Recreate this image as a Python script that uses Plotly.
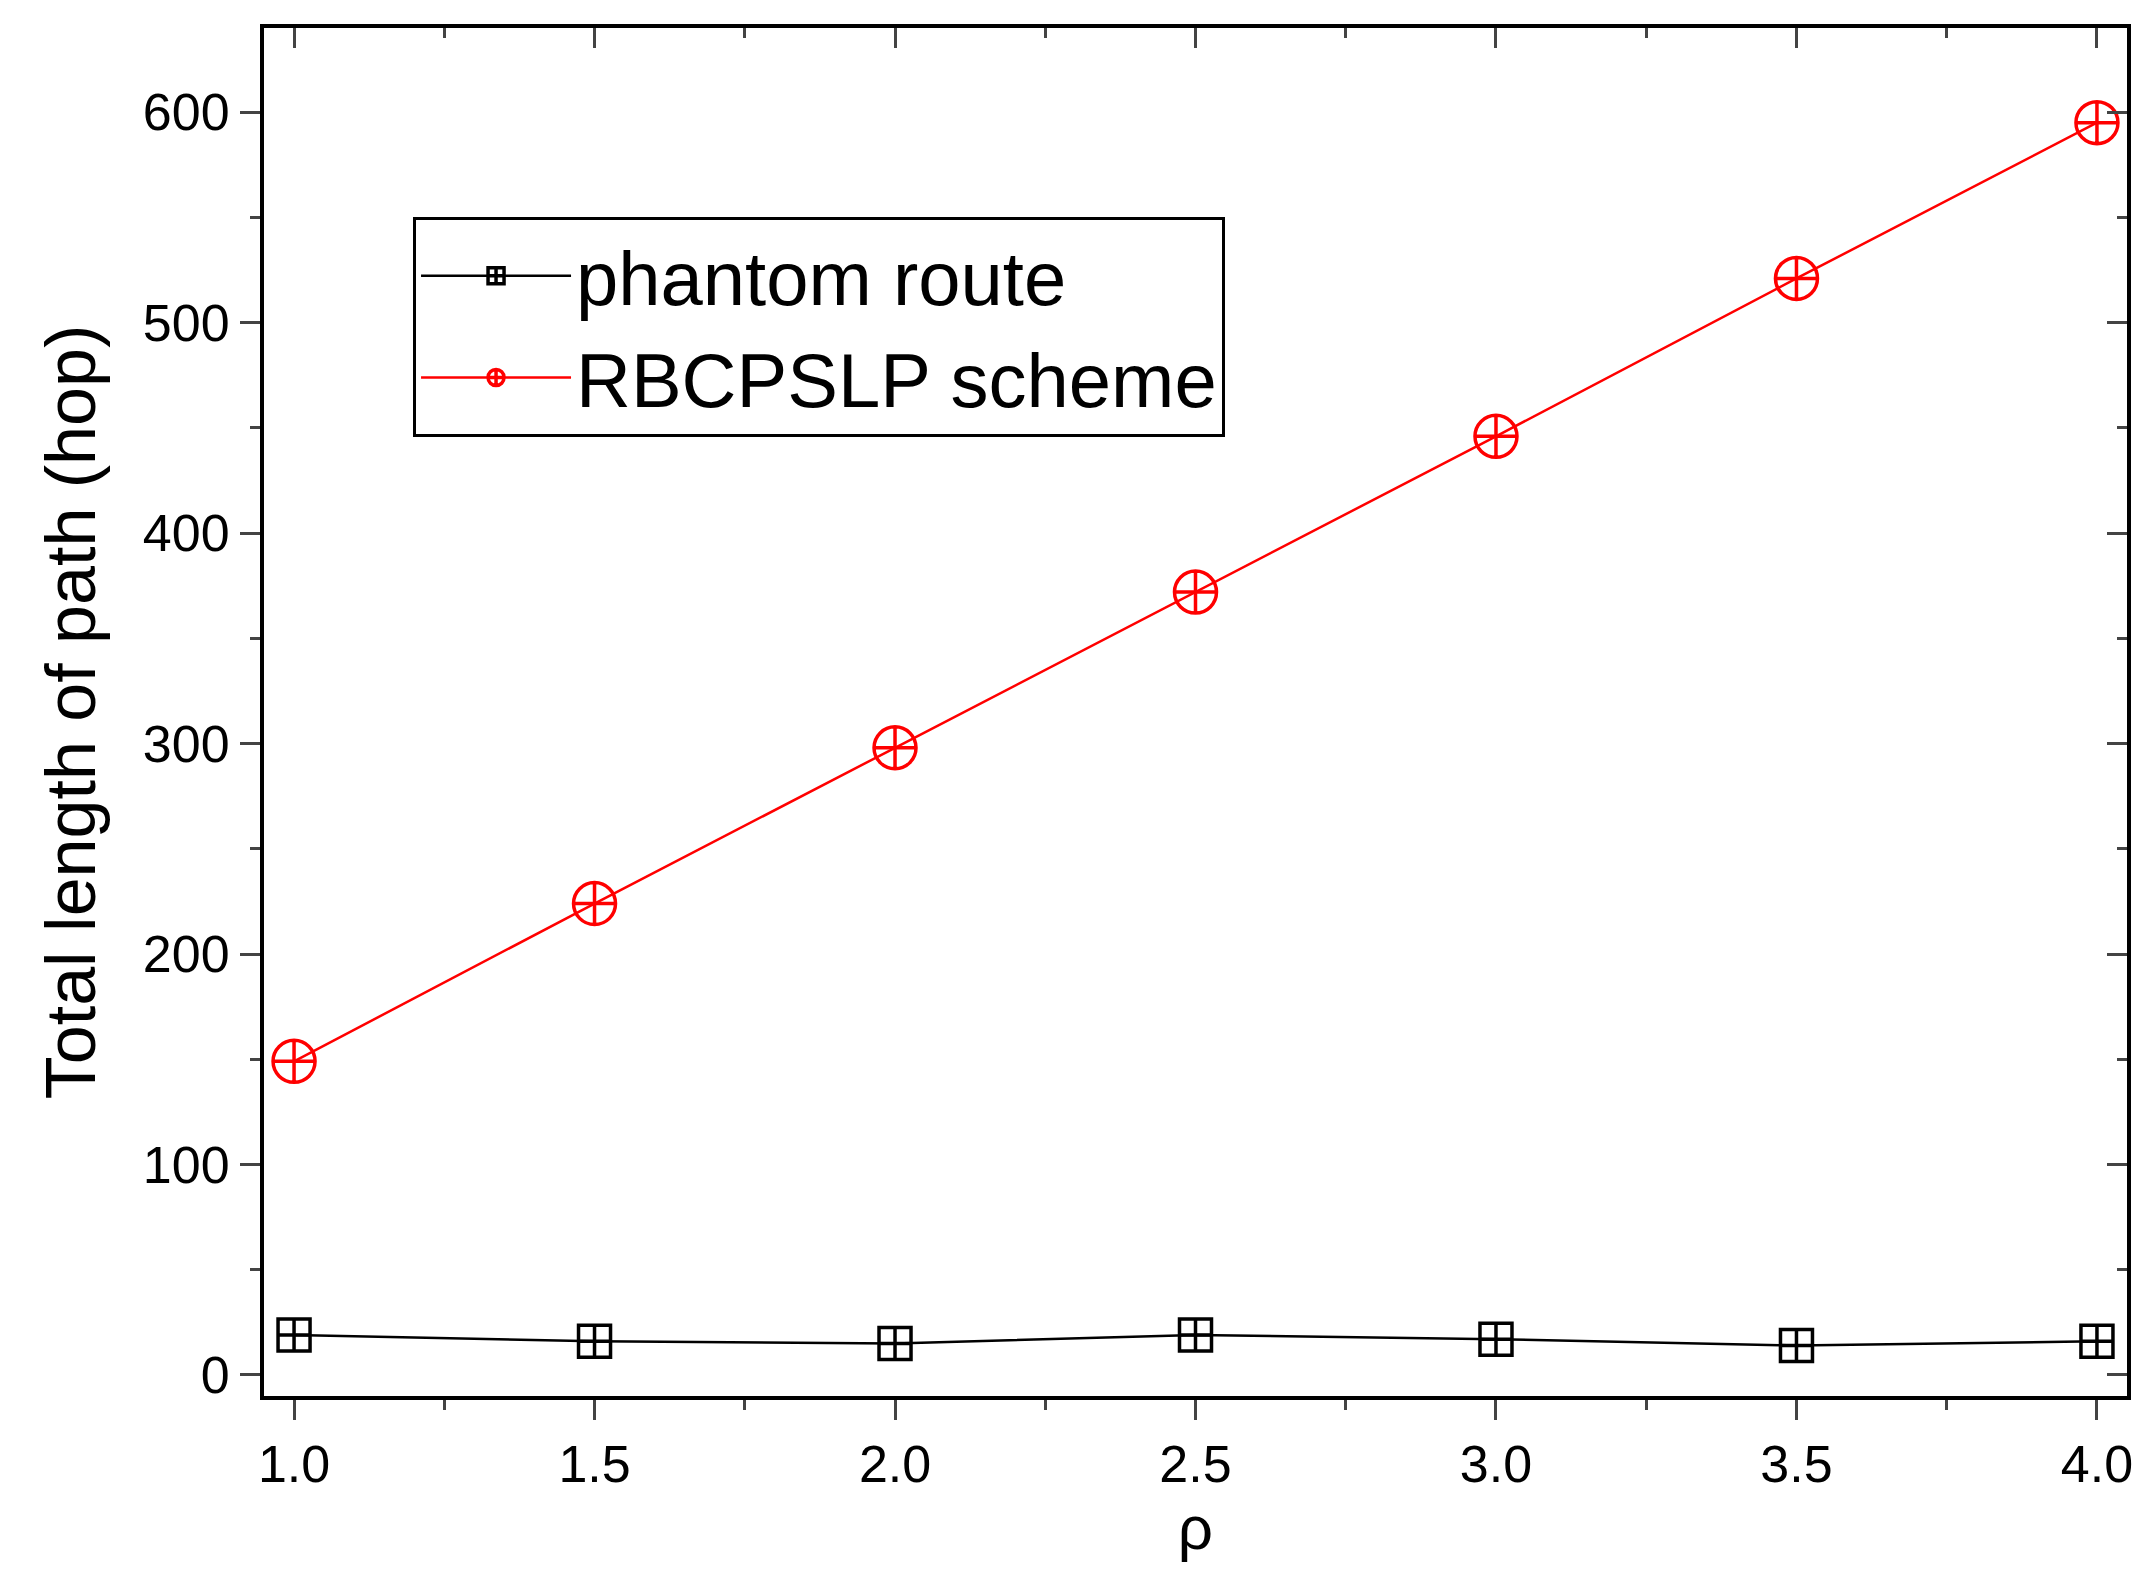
import plotly.graph_objects as go

rho = [1.0, 1.5, 2.0, 2.5, 3.0, 3.5, 4.0]
phantom = [19, 16, 15, 19, 17, 14, 16]
rbcpslp = [149, 224, 298, 372, 446, 521, 595]

fig = go.Figure()
fig.add_trace(go.Scatter(x=rho, y=phantom, mode="lines+markers", name="phantom route",
    line=dict(color="black", width=2.5),
    marker=dict(symbol="square-cross-open", size=32, color="black", line=dict(width=3.5))))
fig.add_trace(go.Scatter(x=rho, y=rbcpslp, mode="lines+markers", name="RBCPSLP scheme",
    line=dict(color="red", width=2.5),
    marker=dict(symbol="circle-cross-open", size=42, color="red", line=dict(width=3.5))))
fig.add_trace(go.Scatter(x=[rho[0]], y=[rbcpslp[0]], xaxis="x2", yaxis="y2", mode="markers",
    marker=dict(opacity=0), showlegend=False, hoverinfo="skip"))

xr = [0.95, 4.05]
yr = [-10, 640]
font = "Liberation Sans, Arial"
fig.update_layout(
    width=2143, height=1590, plot_bgcolor="white", paper_bgcolor="white",
    margin=dict(l=256, r=24, t=20, b=202),
    font=dict(family=font, color="black"),
    xaxis=dict(range=xr, tickvals=rho, ticktext=["1.0","1.5","2.0","2.5","3.0","3.5","4.0"],
        ticks="outside", ticklen=20, tickwidth=3, showgrid=False, zeroline=False,
        showline=True, linewidth=4, linecolor="black", tickfont=dict(size=52),
        minor=dict(dtick=0.25, tick0=1.0, ticks="outside", ticklen=10, tickwidth=3),
        title=dict(text="ρ", font=dict(size=62), standoff=10)),
    yaxis=dict(range=yr, tickvals=[0,100,200,300,400,500,600],
        ticks="outside", ticklen=20, tickwidth=3, showgrid=False, zeroline=False,
        showline=True, linewidth=4, linecolor="black", tickfont=dict(size=52),
        minor=dict(dtick=50, tick0=0, ticks="outside", ticklen=10, tickwidth=3),
        title=dict(text="Total length of path (hop)", font=dict(size=70), standoff=25)),
    xaxis2=dict(range=xr, overlaying="x", side="top", tickvals=rho, showticklabels=False,
        ticks="inside", ticklen=20, tickwidth=3, showgrid=False, zeroline=False,
        showline=True, linewidth=4, linecolor="black",
        minor=dict(dtick=0.25, tick0=1.0, ticks="inside", ticklen=10, tickwidth=3), anchor="y2"),
    yaxis2=dict(range=yr, overlaying="y", side="right", tickvals=[0,100,200,300,400,500,600],
        showticklabels=False, ticks="inside", ticklen=20, tickwidth=3, showgrid=False, zeroline=False,
        showline=True, linewidth=4, linecolor="black",
        minor=dict(dtick=50, tick0=0, ticks="inside", ticklen=10, tickwidth=3), anchor="x2"),
    legend=dict(x=0.08, y=0.862, xanchor="left", yanchor="top", bordercolor="black", borderwidth=3,
        bgcolor="white", font=dict(size=76, family=font), itemwidth=150, tracegroupgap=0),
)
fig.write_html("out.html")
